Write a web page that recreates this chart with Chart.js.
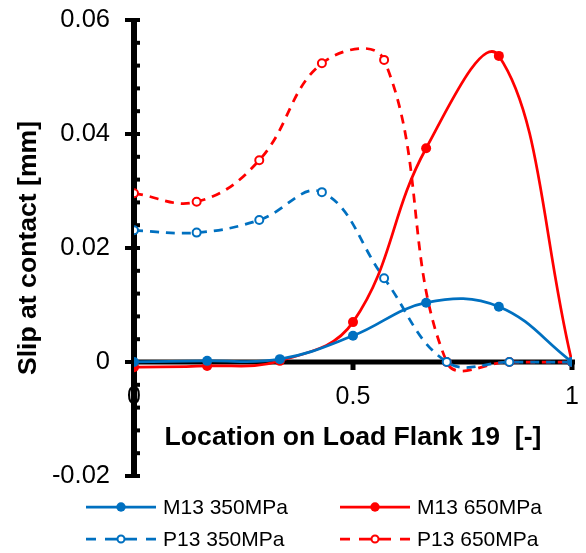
<!DOCTYPE html>
<html>
<head>
<meta charset="utf-8">
<script src="https://cdn.jsdelivr.net/npm/chart.js@4.4.1/dist/chart.umd.min.js"></script>
<style>
  html, body { margin: 0; padding: 0; background: #fff; }
  #wrap { width: 586px; height: 553px; }
</style>
</head>
<body>
<div id="wrap"><canvas id="myChart" width="586" height="553"></canvas></div>
<script>
const mX = [0, 0.167, 0.333, 0.5, 0.667, 0.833, 1];
const m350 = [0, 0.0002, 0.0005, 0.0046, 0.0104, 0.0097, 0];
const m650 = [-0.0009, -0.0007, 0.0002, 0.007, 0.0375, 0.0537, 0];
const pX = [0, 0.143, 0.286, 0.429, 0.571, 0.714, 0.857, 1];
const p350 = [0.0231, 0.0227, 0.0249, 0.0298, 0.0147, 0, 0, 0];
const p650 = [0.0296, 0.0281, 0.0354, 0.0524, 0.053, 0, 0, 0];
const seriesNames = ['M13 350MPa', 'M13 650MPa', 'P13 350MPa', 'P13 650MPa'];
const xTickLabels = ['0', '0.5', '1'];
const yTickLabels = ['-0.02', '0', '0.02', '0.04', '0.06'];

const BLUE = '#0070C0';
const RED = '#FF0000';
const FONT = 'Liberation Sans, Arial, sans-serif';

function pts(xs, ys) {
  return xs.map((x, i) => ({ x: x, y: ys[i] }));
}

function series(label, data, color, dashed) {
  return {
    label: label,
    data: data,
    borderColor: color,
    backgroundColor: dashed ? '#fff' : color,
    borderWidth: 2.75,
    borderDash: dashed ? [9, 7] : [],
    pointRadius: dashed ? 4 : 5,
    pointBorderWidth: dashed ? 2 : 0,
    pointBorderColor: color,
    pointBackgroundColor: dashed ? '#fff' : color,
    pointHoverRadius: 5,
    tension: 0.4,
    fill: false
  };
}

// axis lines and ticks drawn like Excel (major ticks cross, minor on the inside)
const axesPlugin = {
  id: 'excelAxes',
  beforeDatasetsDraw(chart) {
    const { ctx, scales: { x, y } } = chart;
    const x0 = x.getPixelForValue(0);
    const x1 = x.getPixelForValue(1);
    const yTop = y.getPixelForValue(0.06);
    const yBot = y.getPixelForValue(-0.02);
    const yZero = y.getPixelForValue(0);
    ctx.save();
    ctx.fillStyle = '#000';
    // y axis
    ctx.fillRect(x0 - 3, yTop - 2, 6, yBot - yTop + 4);
    for (let i = 0; i <= 20; i++) {
      const v = -0.02 + i * 0.004;
      const py = y.getPixelForValue(v);
      if (i % 5 === 0) ctx.fillRect(x0 - 9, py - 2, 15, 4);
      else ctx.fillRect(x0, py - 2, 6, 4);
    }
    // x axis
    ctx.fillRect(x0, yZero - 2.5, x1 - x0 + 3, 5);
    [0.5, 1].forEach(v => {
      const px = x.getPixelForValue(v);
      ctx.fillRect(px - 2.5, yZero, 5, 8);
    });
    ctx.restore();
  }
};

// two-column legend with line + marker samples
const legendPlugin = {
  id: 'excelLegend',
  afterDraw(chart) {
    const ctx = chart.ctx;
    const cols = [86, 340];
    const rows = [507, 539];
    ctx.save();
    chart.data.datasets.forEach((ds, i) => {
      const lx = cols[i % 2];
      const ly = rows[Math.floor(i / 2)];
      const cx = lx + 35;
      ctx.strokeStyle = ds.borderColor;
      ctx.lineWidth = 2.75;
      if (ds.borderDash.length) {
        ctx.setLineDash([16, 9, 10, 100]);
        ctx.beginPath(); ctx.moveTo(cx, ly); ctx.lineTo(lx, ly); ctx.stroke();
        ctx.beginPath(); ctx.moveTo(cx, ly); ctx.lineTo(lx + 70, ly); ctx.stroke();
        ctx.setLineDash([]);
        ctx.beginPath(); ctx.arc(cx, ly, 3.5, 0, Math.PI * 2);
        ctx.fillStyle = '#fff'; ctx.fill();
        ctx.lineWidth = 2; ctx.stroke();
      } else {
        ctx.beginPath(); ctx.moveTo(lx, ly); ctx.lineTo(lx + 70, ly); ctx.stroke();
        ctx.beginPath(); ctx.arc(cx, ly, 4.7, 0, Math.PI * 2);
        ctx.fillStyle = ds.borderColor; ctx.fill();
      }
      ctx.fillStyle = '#000';
      ctx.font = '21px ' + FONT;
      ctx.textAlign = 'left';
      ctx.textBaseline = 'middle';
      ctx.fillText(ds.label, lx + 77, ly + 1);
    });
    ctx.restore();
  }
};

const ctx = document.getElementById('myChart');

new Chart(ctx, {
  type: 'line',
  data: {
    datasets: [
      series(seriesNames[0], pts(mX, m350), BLUE, false),
      series(seriesNames[1], pts(mX, m650), RED, false),
      series(seriesNames[2], pts(pX, p350), BLUE, true),
      series(seriesNames[3], pts(pX, p650), RED, true)
    ]
  },
  options: {
    responsive: false,
    animation: false,
    layout: { padding: { top: 20, right: 14, bottom: 77, left: 0 } },
    plugins: {
      legend: { display: false },
      tooltip: { enabled: false }
    },
    scales: {
      x: {
        type: 'linear',
        position: { y: 0 },
        min: 0,
        max: 1,
        grid: { display: false, drawTicks: false },
        border: { display: false },
        ticks: {
          stepSize: 0.5,
          padding: 20,
          color: '#000',
          font: { family: FONT, size: 25 },
          maxRotation: 0,
          callback: (v, i) => xTickLabels[i]
        },
        title: {
          display: true,
          text: 'Location on Load Flank 19  [-]',
          color: '#000',
          font: { family: FONT, size: 26.6, weight: 'bold' },
          padding: { top: -10, bottom: 0 }
        },
        afterFit(scale) {
          scale.paddingLeft = 0;
          scale.paddingRight = 0;
        }
      },
      y: {
        min: -0.02,
        max: 0.06,
        grid: { display: false, drawTicks: false },
        border: { display: false },
        ticks: {
          stepSize: 0.02,
          padding: 24,
          color: '#000',
          font: { family: FONT, size: 25.5 },
          callback: (v, i) => yTickLabels[i]
        },
        title: {
          display: true,
          text: 'Slip at contact [mm]',
          color: '#000',
          font: { family: FONT, size: 26.6, weight: 'bold' },
          padding: { top: 13, bottom: 0 }
        },
        afterFit(scale) {
          scale.width = 134;
          scale.paddingTop = 0;
          scale.paddingBottom = 0;
        }
      }
    }
  },
  plugins: [axesPlugin, legendPlugin]
});
</script>
</body>
</html>
